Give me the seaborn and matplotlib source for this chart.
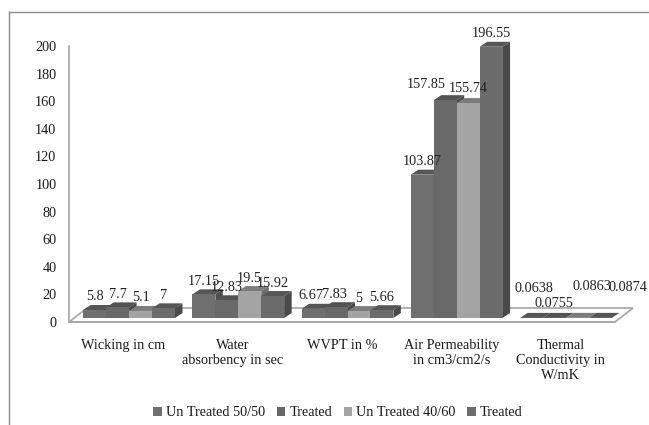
import pandas as pd
import matplotlib
matplotlib.use("Agg")
import matplotlib.pyplot as plt
import seaborn as sns

categories = ["Wicking in cm", "Water\nabsorbency in sec", "WVPT in %",
              "Air Permeability\nin cm3/cm2/s", "Thermal\nConductivity in\nW/mK"]
series_names = ["Un Treated 50/50", "Treated", "Un Treated 40/60", "Treated"]
untreated_5050 = [5.8, 17.15, 6.67, 103.87, 0.0638]
treated_5050 = [7.7, 12.83, 7.83, 157.85, 0.0755]
untreated_4060 = [5.1, 19.5, 5, 155.74, 0.0863]
treated_4060 = [7, 15.92, 5.66, 196.55, 0.0874]
value_labels = [["5.8", "17.15", "6.67", "103.87", "0.0638"],
                ["7.7", "12.83", "7.83", "157.85", "0.0755"],
                ["5.1", "19.5", "5", "155.74", "0.0863"],
                ["7", "15.92", "5.66", "196.55", "0.0874"]]
front_colors = ["#6f6f6f", "#696969", "#a4a4a4", "#6c6c6c"]
side_colors = ["#4e4e4e", "#4a4a4a", "#6e6e6e", "#4a4a4a"]
top_colors = ["#565656", "#525252", "#7c7c7c", "#565656"]

W, H = 649, 425
plt.rcParams["font.family"] = ["Liberation Serif", "DejaVu Serif"]
plt.rcParams["font.size"] = 10.3

rows = []
for i, vals in enumerate([untreated_5050, treated_5050, untreated_4060, treated_4060]):
    for cat, v in zip(categories, vals):
        rows.append({"category": cat, "series": i, "value": v})
df = pd.DataFrame(rows)

fig = plt.figure(figsize=(W / 100, H / 100), dpi=100, facecolor="white")
ax = fig.add_axes([69 / W, 1 - 322 / H, 546 / W, 276 / H])
sns.barplot(data=df, x="category", y="value", hue="series", order=categories,
            palette=front_colors, width=0.84, gap=0, saturation=1, errorbar=None,
            ax=ax, zorder=5, linewidth=0)
ax.set_xlim(-0.5, 4.5)
ax.set_ylim(0, 200)
ax.set_xlabel("")
ax.set_ylabel("")
ax.patch.set_visible(False)

# pixel to data scales, used for the fake 3D look
px_x = 5 / 546
px_y = 200 / 276
line_gray = "#a6a6a6"

# floor of the 3D box
fx, fy = 18 * px_x, 14 * px_y
ax.fill([-0.5, 4.5, 4.5 + fx, -0.5 + fx], [0, 0, fy, fy], facecolor="white",
        edgecolor=line_gray, lw=1.2, zorder=1, clip_on=False)

shift_x, shift_y = 5.5 * px_x, 4 * px_y
dx, dy = 7.5 * px_x, 5 * px_y
for cat_i in range(len(categories)):
    for s, cont in enumerate(ax.containers):
        p = cont.patches[cat_i]
        p.set_x(p.get_x() + shift_x)
        p.set_y(p.get_y() + shift_y)
        x0, x1 = p.get_x(), p.get_x() + p.get_width()
        y0, y1 = p.get_y(), p.get_y() + p.get_height()
        z = 2 + cat_i + s * 0.1
        ax.fill([x0, x1, x1 + dx, x0 + dx], [y1, y1, y1 + dy, y1 + dy],
                color=top_colors[s], lw=0, zorder=z, clip_on=False)
        ax.fill([x1, x1 + dx, x1 + dx, x1], [y0, y0 + dy, y1 + dy, y1],
                color=side_colors[s], lw=0, zorder=z, clip_on=False)
        p.set_zorder(20)

# data labels, the crowded ones were moved by hand in the original (pixels)
nudges = {(2, 0): (-2, 0), (2, 1): (-2, 0), (3, 1): (-19, 3), (3, 2): (0, 2),
          (4, 0): (2, 16), (4, 1): (-1, 1), (4, 2): (15, 18), (4, 3): (28, 17)}
for s, cont in enumerate(ax.containers):
    for cat_i, p in enumerate(cont.patches):
        ox, oy = nudges.get((cat_i, s), (0, 0))
        ax.annotate(value_labels[s][cat_i],
                    (p.get_x() + p.get_width() / 2, p.get_y() + p.get_height()),
                    xytext=(ox * 0.72, (13 + oy) * 0.72),
                    textcoords="offset points", ha="center", va="center",
                    color="#222222", zorder=30, annotation_clip=False)

ax.set_yticks(range(0, 201, 20))
ax.tick_params(axis="y", length=0, pad=9, labelcolor="#1a1a1a")
ax.tick_params(axis="x", length=0, pad=12, labelcolor="#1a1a1a")
sns.despine(ax=ax, top=True, right=True, bottom=False, left=False)
ax.spines["left"].set_color(line_gray)
ax.spines["bottom"].set_color(line_gray)
ax.spines["left"].set_linewidth(1.2)
ax.spines["bottom"].set_linewidth(1.2)

handles = ax.get_legend().legend_handles
ax.legend(handles, series_names, loc="center", ncol=4, frameon=False,
          bbox_to_anchor=(338 / W, 1 - 413 / H), bbox_transform=fig.transFigure,
          handlelength=0.6, handleheight=0.6, handletextpad=0.3, columnspacing=0.8,
          labelcolor="#1a1a1a")

# picture frame
fig.add_artist(plt.Line2D([9 / W, 9 / W], [0, 1 - 11.5 / H], color="#8c8c8c", lw=1))
fig.add_artist(plt.Line2D([9 / W, 1], [1 - 11.5 / H, 1 - 11.5 / H], color="#8c8c8c", lw=1))

fig.savefig("out.png", dpi=100)
